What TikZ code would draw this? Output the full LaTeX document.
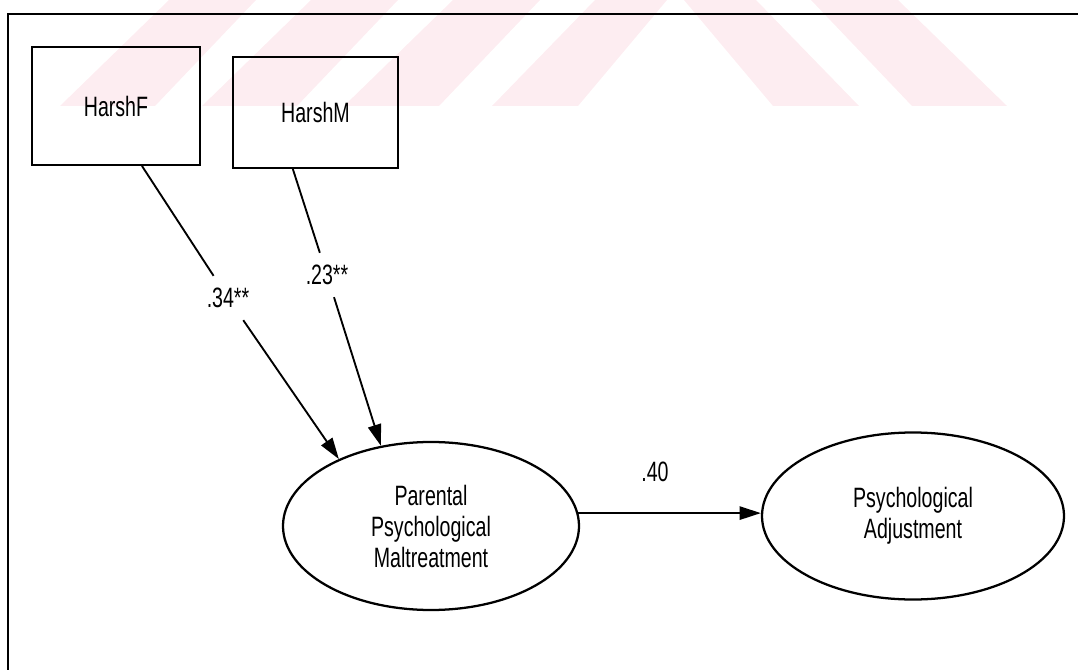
\documentclass[tikz,border=0pt]{standalone}
\usepackage{fontspec}
\newfontfamily\diagfont[FakeStretch=0.7]{Liberation Sans}
\usetikzlibrary{shapes.geometric,arrows.meta,calc}
\definecolor{wm}{RGB}{253,237,241}
\begin{document}
\begin{tikzpicture}[x=0.75pt,y=-0.75pt,
  every node/.style={font=\diagfont\fontsize{21}{23.25}\selectfont},
  box/.style={draw, line width=1.5pt, inner sep=0pt},
  latent/.style={draw, ellipse, line width=1.7pt, inner sep=0pt, align=center},
  pathline/.style={line width=1.4pt},
  arr/.style={pathline, -{Triangle[length=16pt,width=10pt]}},
  coef/.style={inner xsep=1.5pt, inner ysep=9pt}]
\useasboundingbox (0,0) rectangle (1078,670);
% watermark stripes
\fill[wm] (169,0) -- (256,0) -- (155,106) -- (60,106) -- cycle;
\fill[wm] (311,0) -- (398,0) -- (297,106) -- (202,106) -- cycle;
\fill[wm] (453,0) -- (540,0) -- (439,106) -- (344,106) -- cycle;
\fill[wm] (595,0) -- (667,0) -- (578,106) -- (492,106) -- cycle;
\fill[wm] (684,0) -- (756,0) -- (859,106) -- (773,106) -- cycle;
\fill[wm] (811,0) -- (898,0) -- (1007,106) -- (912,106) -- cycle;
% frame
\draw[line width=1.5pt] (1078,14) -- (8,14) -- (8,670);
% nodes
\node[box, minimum width=126pt, minimum height=88.5pt] (hf) at (116,106) {HarshF};
\node[box, minimum width=123.75pt, minimum height=83.25pt] (hm) at (315.5,112.5) {HarshM};
\node[latent, minimum width=222pt, minimum height=126pt] (e1) at (431,526) {Parental\\Psychological\\Maltreatment};
\node[latent, minimum width=226.5pt, minimum height=125.25pt] (e2) at (913,516) {Psychological\\Adjustment};
\node[coef] (l1) at (228,298) {.34**};
\node[coef] (l2) at (327,275) {.23**};
\node (l3) at (655,472) {.40};
% connectors
\draw[pathline] ($(hf.south)+(19.5pt,0)$) -- (l1);
\draw[arr] (l1) -- (e1.144.6);
\draw[pathline] ($(hm.south)+(-17pt,0)$) -- (l2);
\draw[arr] (l2) -- (e1.122.8);
\draw[arr] (e1.5) -- (e1.5 -| e2.west);
\end{tikzpicture}
\end{document}
